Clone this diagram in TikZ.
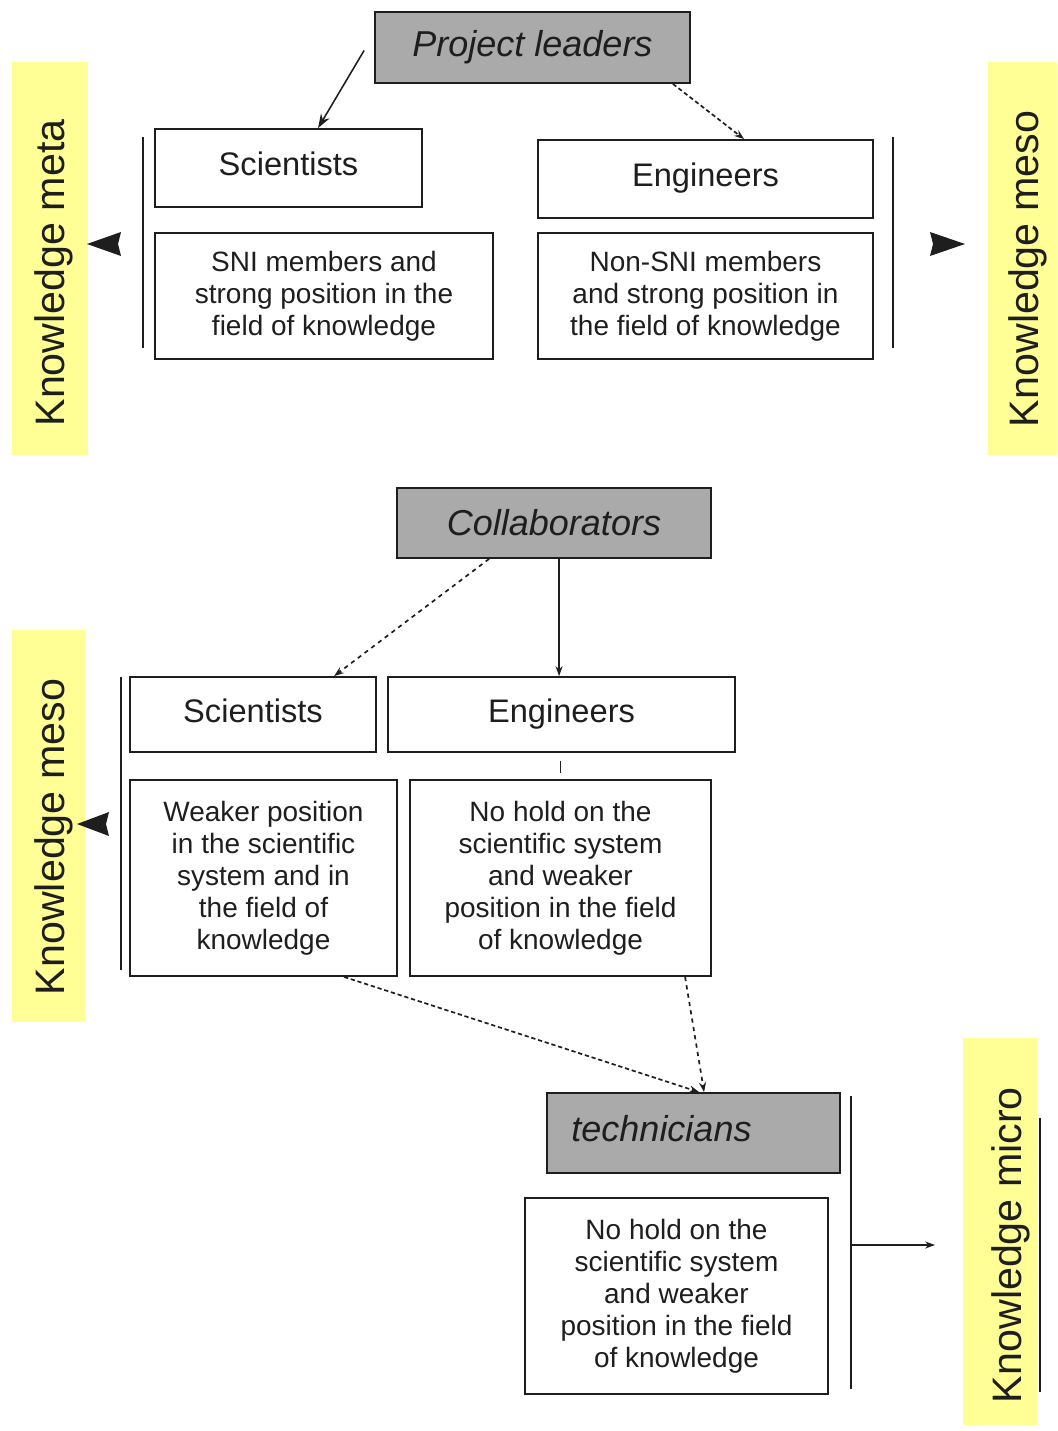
\documentclass[tikz,border=0pt]{standalone}
\usepackage{fontspec}
\setmainfont{Liberation Sans}
\usetikzlibrary{arrows.meta,calc}
\definecolor{boxgray}{RGB}{170,170,170}
\definecolor{ylw}{RGB}{255,255,150}
\definecolor{ink}{RGB}{30,30,30}
\newcommand\bx[7]{\node[#6, minimum width={(#4-#2)*0.025cm}, minimum height={(#5-#3)*0.025cm}] (#1) at ({(#2+#4)/2},{(#3+#5)/2}) {#7};}
\newcommand\up[1]{\raisebox{0.2cm}{#1}}
\begin{document}
\begin{tikzpicture}[x=0.025cm,y=-0.025cm,
  cell/.style={draw=ink, line width=1.3pt, inner sep=0pt, align=center, text=ink},
  lbl/.style={cell, font=\fontsize{23.2pt}{26pt}\selectfont},
  desc/.style={cell, font=\fontsize{19.9pt}{22.8pt}\selectfont},
  head/.style={cell, fill=boxgray, font=\itshape\fontsize{25.6pt}{28pt}\selectfont},
  side/.style={rotate=90, anchor=base, inner sep=0pt, text=ink, font=\fontsize{29.3pt}{32pt}\selectfont},
  brk/.style={draw=ink, line width=1.3pt},
  conn/.style={draw=ink, line width=1.1pt, -{Stealth[length=10pt,width=7pt]}},
  dconn/.style={draw=ink, line width=1.2pt, -{Stealth[length=7pt,width=5pt]}},
  tri/.style={fill=ink},
]
\useasboundingbox (0,0) rectangle (1057,1431);
\fill[white] (0,0) rectangle (1057,1431);

% yellow side bands
\fill[ylw] (12,62) rectangle (88,455);
\fill[ylw] (988,62) rectangle (1057,455);
\fill[ylw] (12,630) rectangle (85,1022);
\fill[ylw] (963,1038) rectangle (1037,1425);

\node[side] (kmeta) at (64,273) {Knowledge meta};
\node[side] (kmeso1) at (1038,269) {Knowledge meso};
\node[side] (kmeso2) at (64,837) {Knowledge meso};
\node[side] (kmicro) at (1021,1245) {Knowledge micro};
\draw[ink, line width=1pt] (1040,1118) -- (1040,1392);

% top block
\bx{PL}{375}{12}{690}{83}{head}{Project leaders}
\bx{S1}{155}{129}{422}{207}{lbl}{\up{Scientists}}
\bx{SNI}{155}{233}{493}{359}{desc}{SNI members and\\strong position in the\\field of knowledge}
\bx{E1}{538}{140}{873}{218}{lbl}{\up{Engineers}}
\bx{NSNI}{538}{233}{873}{359}{desc}{Non-SNI members\\and strong position in\\the field of knowledge}

\draw[brk] (143,137) -- (143,348);
\draw[brk] (893,137) -- (893,348);
\fill[tri] (87,244) -- (121,232) -- (118,244) -- (121,256) -- cycle;
\fill[tri] (965,244) -- (930,232) -- (933,244) -- (930,256) -- cycle;

\coordinate (plL) at ($(PL.west)+(-10,3)$);
\draw[conn] (plL) -- ($(S1.north west)!0.61!(S1.north east)$);
\draw[dconn, densely dashed] ($(PL.south east)+(-18,0)$) -- ($(E1.north west)+(207,0)$);

% middle block
\bx{CO}{397}{488}{711}{558}{head}{Collaborators}
\bx{S2}{130}{677}{376}{752}{lbl}{\up{Scientists}}
\bx{E2}{388}{677}{735}{752}{lbl}{\up{Engineers}}
\bx{W}{130}{780}{397}{976}{desc}{Weaker position\\in the scientific\\system and in\\the field of\\knowledge}
\bx{NH}{410}{780}{711}{976}{desc}{No hold on the\\scientific system\\and weaker\\position in the field\\of knowledge}

\draw[brk] (121,677) -- (121,970);
\fill[tri] (77,824) -- (109,812) -- (106,824) -- (109,836) -- cycle;

\draw[dconn, dashed] ($(CO.south west)+(93,0)$) -- ($(S2.north west)+(205,0)$);
\draw[dconn] ($(CO.south west)+(163,0)$) -- ($(E2.north west)+(172,0)$);
\draw[ink, line width=1.2pt] ($(E2.south)+(-1,8)$) -- ($(E2.south)+(-1,20)$);

% bottom block
\bx{T}{547}{1093}{840}{1173}{head}{\raisebox{0.25cm}{technicians}\hspace*{1.6cm}}
\bx{NH2}{525}{1198}{828}{1394}{desc}{No hold on the\\scientific system\\and weaker\\position in the field\\of knowledge}

\draw[dconn, densely dashed] ($(W.south west)+(215,0)$) -- ($(T.north west)+(153,0)$);
\draw[dconn, dashed] ($(NH.south west)+(276,0)$) -- ($(T.north west)+(158,0)$);

\draw[brk] (851,1096) -- (851,1389);
\coordinate (b3) at (851,1245);
\coordinate (b3end) at (935,1245);
\draw[dconn] (b3) -- (b3end);
\end{tikzpicture}
\end{document}
